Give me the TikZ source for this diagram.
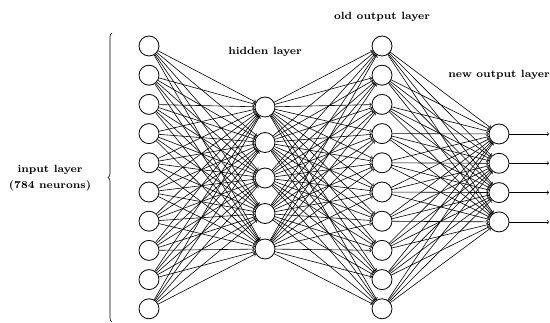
\documentclass[tikz,border=0pt]{standalone}
\usepackage{tikz}
\usetikzlibrary{decorations.pathreplacing}

\begin{document}
\begin{tikzpicture}[x=1pt,y=-1pt]
					\tikzstyle{every node}+=[inner sep=0pt]
					\tikzstyle{neuron}=[draw, black, circle, minimum size=20pt, line width=0.8pt]
					\tikzstyle{layertext}=[font=\bfseries\fontsize{7}{10.5}\selectfont, scale=1.5, align=center]
					\tikzstyle{synapse}=[->, black, line width=0.6pt]
					\useasboundingbox (0,0) rectangle (550,323);
					% layers
					\foreach \i in {1,...,10}
						\node [neuron] (in-\i) at (149,{46+29.2*(\i-1)}) {};
					\foreach \i in {1,...,5}
						\node [neuron] (hid-\i) at (265,{107+35.5*(\i-1)}) {};
					\foreach \i in {1,...,10}
						\node [neuron] (old-\i) at (382,{46+29.2*(\i-1)}) {};
					\foreach \i in {1,...,4}
					{
						\node [neuron] (new-\i) at (499,{134+29.3*(\i-1)}) {};
						\coordinate (end-\i) at (549,{134+29.3*(\i-1)});
					}
					% connections
					\foreach \i in {1,...,10}
						\foreach \j in {1,...,5}
						{
							\draw [synapse] (in-\i) -- (hid-\j);
							\draw [synapse] (hid-\j) -- (old-\i);
						}
					\foreach \i in {1,...,10}
						\foreach \j in {1,...,4}
							\draw [synapse] (old-\i) -- (new-\j);
					\foreach \j in {1,...,4}
						\draw [synapse] (new-\j) -- (end-\j);
					% labels
					\node [layertext] (hid-label) at (265,52) {hidden layer};
					\node [layertext] (old-label) at (382,17) {old output layer};
					\node [layertext] (new-label) at (499,75) {new output layer};
					\node [layertext] (in-label) at (50,178) {input layer\\(784 neurons)};
					\coordinate (brace-top) at (112,33);
					\coordinate (brace-bot) at (112,322);
					\draw [black, line width=0.6pt, decorate, decoration={brace, amplitude=4pt}] (brace-bot) -- (brace-top);
				\end{tikzpicture}
\end{document}
